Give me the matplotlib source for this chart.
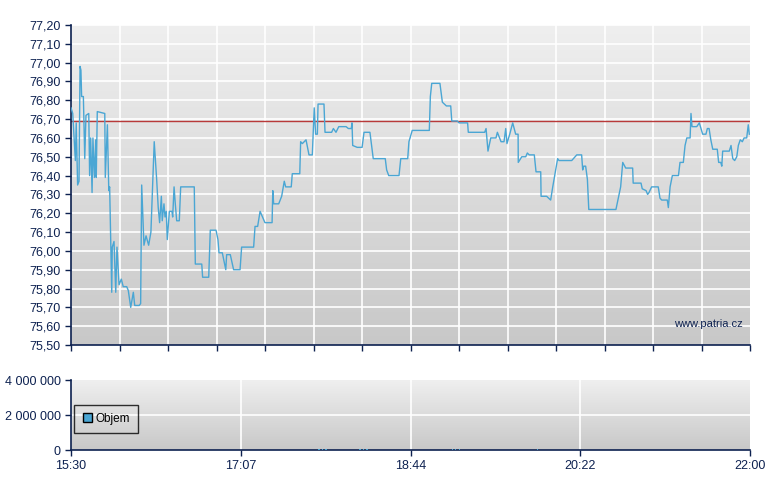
import numpy as np
import matplotlib
matplotlib.use("Agg")
import matplotlib.pyplot as plt
from matplotlib.colors import LinearSegmentedColormap
from matplotlib.patches import Patch

# minutes after 15:30
minutes = [0, 1.0, 2.5, 3.0, 3.8, 4.6, 5.2, 5.7, 6.1, 7.1, 7.9, 8.6, 10.2, 10.7, 11.3, 12.1, 12.6, 13.4,
           14.2, 14.5, 15.1, 19.4, 19.7, 20.9, 21.7, 22.2, 23.4, 23.7, 24.7, 25.7, 26.4, 27.6, 28.9, 30.0,
           32.0, 32.9, 34.3, 35.8, 36.6, 39.2, 40.0, 40.6, 41.9, 43.1, 44.6, 45.9, 47.8, 49.2, 50.1, 50.9,
           51.9, 52.4, 53.4, 54.0, 54.7, 55.3, 56.5, 58.0, 58.4, 59.2, 59.9, 60.7, 62.2, 63.0, 70.8, 71.4,
           75.1, 75.6, 79.1, 80.0, 83.3, 84.4, 85.0, 86.9, 88.9, 89.4, 91.5, 93.4, 97.1, 98.0, 104.9, 105.7,
           107.2, 108.6, 111.4, 115.5, 115.9, 116.4, 119.3, 121.0, 122.5, 123.3, 126.5, 127.1, 131.4, 131.9,
           132.9, 135.0, 136.7, 138.6, 139.7, 140.5, 141.5, 141.9, 145.3, 145.9, 149.7, 150.7, 152.2, 153.8,
           158.0, 159.3, 161.0, 161.4, 161.8, 164.4, 167.2, 168.3, 171.7, 173.6, 180.5, 181.3, 182.5, 188.4,
           189.4, 193.4, 194.1, 196.0, 205.8, 206.4, 207.2, 211.9, 213.3, 215.6, 218.1, 218.7, 221.9, 222.9,
           227.8, 228.2, 237.6, 238.4, 239.5, 241.1, 244.1, 244.9, 247.0, 248.7, 249.7, 250.4, 252.0, 253.7,
           255.4, 256.8, 256.9, 258.9, 261.2, 262.1, 263.2, 266.1, 267.1, 269.8, 270.0, 273.2, 275.5, 276.7,
           278.4, 279.5, 280.3, 287.6, 290.5, 293.3, 293.9, 294.5, 295.6, 296.6, 297.4, 313.0, 315.7, 316.9,
           318.6, 322.6, 322.9, 327.4, 328.1, 330.3, 331.2, 332.0, 333.5, 337.3, 338.3, 339.3, 342.5, 343.1,
           344.1, 345.4, 348.9, 349.8, 351.7, 352.7, 353.7, 355.6, 356.1, 356.7, 359.4, 360.9, 362.8, 364.7,
           365.5, 366.5, 367.5, 368.6, 371.2, 372.0, 373.2, 373.8, 374.3, 378.1, 379.1, 380.1, 381.2, 382.4,
           383.3, 384.4, 385.6, 386.6, 388.1, 389.0, 389.6]
prices = [76.76, 76.73, 76.48, 76.68, 76.35, 76.37, 76.98, 76.96, 76.82, 76.82, 76.49, 76.72, 76.73, 76.40,
          76.60, 76.31, 76.60, 76.39, 76.59, 76.39, 76.74, 76.73, 76.39, 76.67, 76.32, 76.34, 75.78, 76.02,
          76.05, 75.78, 76.02, 75.82, 75.85, 75.81, 75.81, 75.79, 75.70, 75.78, 75.71, 75.71, 75.72, 76.35,
          76.03, 76.08, 76.03, 76.10, 76.58, 76.38, 76.23, 76.15, 76.29, 76.16, 76.25, 76.18, 76.21, 76.06,
          76.21, 76.21, 76.18, 76.34, 76.25, 76.16, 76.16, 76.34, 76.34, 75.93, 75.93, 75.86, 75.86, 76.11,
          76.11, 76.06, 75.99, 75.99, 75.90, 75.98, 75.98, 75.90, 75.90, 76.02, 76.02, 76.13, 76.13, 76.21,
          76.15, 76.15, 76.32, 76.25, 76.25, 76.29, 76.37, 76.34, 76.34, 76.41, 76.41, 76.58, 76.57, 76.59,
          76.51, 76.51, 76.76, 76.62, 76.62, 76.78, 76.78, 76.63, 76.63, 76.65, 76.63, 76.66, 76.66, 76.65,
          76.65, 76.68, 76.56, 76.55, 76.55, 76.63, 76.63, 76.49, 76.49, 76.43, 76.40, 76.40, 76.49, 76.49,
          76.58, 76.64, 76.64, 76.82, 76.89, 76.89, 76.79, 76.77, 76.77, 76.69, 76.69, 76.68, 76.68, 76.63,
          76.63, 76.65, 76.53, 76.60, 76.60, 76.63, 76.58, 76.58, 76.65, 76.57, 76.62, 76.68, 76.62, 76.62,
          76.47, 76.50, 76.50, 76.52, 76.51, 76.51, 76.42, 76.42, 76.29, 76.29, 76.27, 76.34, 76.43, 76.49,
          76.48, 76.48, 76.51, 76.51, 76.43, 76.45, 76.45, 76.38, 76.22, 76.22, 76.34, 76.47, 76.44, 76.44,
          76.36, 76.36, 76.33, 76.32, 76.30, 76.31, 76.34, 76.34, 76.28, 76.27, 76.27, 76.23, 76.34, 76.40,
          76.40, 76.47, 76.47, 76.56, 76.60, 76.60, 76.73, 76.66, 76.66, 76.68, 76.62, 76.62, 76.65, 76.65,
          76.59, 76.54, 76.54, 76.47, 76.47, 76.45, 76.53, 76.53, 76.56, 76.49, 76.48, 76.50, 76.56, 76.59,
          76.58, 76.60, 76.60, 76.67, 76.62]
prev_close = 76.69

vol_minutes = [142.5, 144.5, 146.5, 166.0, 168.0, 170.0, 219.0, 221.0, 223.0, 268.0]
vol_values = [40000, 40000, 40000, 40000, 40000, 40000, 50000, 40000, 40000, 30000]

y_ticks = [75.50, 75.60, 75.70, 75.80, 75.90, 76.00, 76.10, 76.20, 76.30, 76.40, 76.50, 76.60, 76.70,
           76.80, 76.90, 77.00, 77.10, 77.20]
vol_ticks = [0, 2000000, 4000000]
vol_tick_labels = ["0", "2 000 000", "4 000 000"]
time_ticks = [0, 97.5, 195, 292.5, 390]
time_labels = ["15:30", "17:07", "18:44", "20:22", "22:00"]

LINE = "#4aa6d4"
NAVY = "#0d2150"
plt.rcParams['font.family'] = ['Liberation Sans', 'DejaVu Sans']

fig = plt.figure(figsize=(7.8, 4.9), dpi=100)
ax = fig.add_axes([71/780, 1-345/490, (750-71)/780, 320/490])
axv = fig.add_axes([71/780, 1-450/490, (750-71)/780, 70/490])

cmap = LinearSegmentedColormap.from_list("g", ["#c8c8c8", "#efefef"])
for a in (ax, axv):
    a.imshow(np.linspace(0, 1, 256)[:, None], extent=[0, 1, 0, 1], transform=a.transAxes,
             aspect='auto', cmap=cmap, origin='lower', zorder=0)
    a.set_xlim(0, 390)
    for s in ('top', 'right'):
        a.spines[s].set_visible(False)
    for s in ('left', 'bottom'):
        a.spines[s].set_color(NAVY)
        a.spines[s].set_linewidth(1.2)
    a.tick_params(colors=NAVY, labelcolor=NAVY, labelsize=9, length=4, width=1)

# main chart
ax.set_ylim(75.50, 77.20)
ax.set_yticks(y_ticks)
ax.set_yticklabels([f"{v:.2f}".replace('.', ',') for v in y_ticks])
main_xt = np.linspace(0, 390, 15)
ax.set_xticks(main_xt)
ax.set_xticklabels([])
for t in main_xt[1:-1]:
    ax.axvline(t, color='white', lw=1.2, zorder=1)
for v in y_ticks[1:]:
    ax.axhline(v, color='white', lw=1.2, zorder=1)
ax.axhline(prev_close, color='#b83a3a', lw=1.0, zorder=2)
ax.plot(minutes, prices, color=LINE, lw=1.0, zorder=3)
ax.text(0.99, 0.065, "www.patria.cz", transform=ax.transAxes, ha='right', va='center',
        color=NAVY, fontsize=8)

# volume chart
axv.set_ylim(0, 4000000)
axv.set_yticks(vol_ticks)
axv.set_yticklabels(vol_tick_labels)
axv.set_xticks(time_ticks)
axv.set_xticklabels(time_labels)
for t in time_ticks[1:-1]:
    axv.axvline(t, color='white', lw=1.2, zorder=1)
axv.axhline(2000000, color='white', lw=1.2, zorder=1)
axv.bar(vol_minutes, vol_values, width=0.8, color=LINE, zorder=3)
leg = axv.legend(handles=[Patch(facecolor=LINE, edgecolor='black', label='Objem')],
                 loc='upper left', bbox_to_anchor=(0.005, 0.65), frameon=True, fancybox=False,
                 fontsize=8.5, handlelength=0.75, handleheight=0.75,
                 handletextpad=0.35, borderpad=0.7, borderaxespad=0)
frame = leg.get_frame()
frame.set_facecolor('none')
frame.set_edgecolor('black')
frame.set_linewidth(1.0)

fig.savefig("out.png", dpi=100, facecolor='white')
